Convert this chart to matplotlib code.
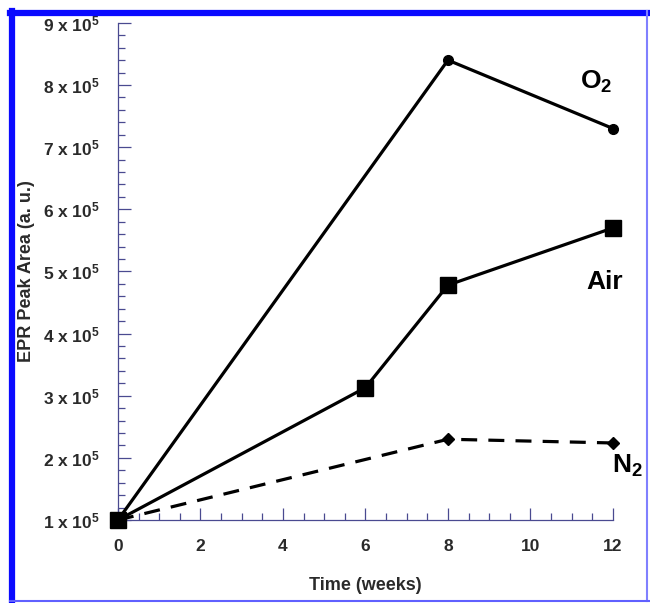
import matplotlib.pyplot as plt
from matplotlib import ticker
from matplotlib.lines import Line2D

plt.rcParams['font.family'] = ['Liberation Sans', 'DejaVu Sans']
plt.rcParams['mathtext.default'] = 'regular'

# EPR peak area vs storage time
o2_weeks = [0, 8, 12]
o2_area = [1.0e5, 8.4e5, 7.3e5]
air_weeks = [0, 6, 8, 12]
air_area = [1.0e5, 3.13e5, 4.78e5, 5.7e5]
n2_weeks = [0, 8, 12]
n2_area = [1.0e5, 2.3e5, 2.24e5]

y_ticks = [1e5, 2e5, 3e5, 4e5, 5e5, 6e5, 7e5, 8e5, 9e5]
x_ticks = [0, 2, 4, 6, 8, 10, 12]

axis_col = "#4a4a90"
label_col = "#2a2a2a"

fig = plt.figure(figsize=(6.5, 6.03), dpi=100)
ax = fig.add_axes([0.1815, 0.1376, 0.7615, 0.8245])

ax.plot(o2_weeks, o2_area, "-o", color="black", lw=2.3, markersize=7, clip_on=False, zorder=3)
ax.plot(air_weeks, air_area, "-s", color="black", lw=2.3, markersize=11, clip_on=False, zorder=3)
ax.plot(n2_weeks, n2_area, "--D", color="black", lw=2.3, markersize=6, dashes=(5, 3.5),
        clip_on=False, zorder=3)

ax.set_xlim(0, 12)
ax.set_ylim(1e5, 9e5)
ax.set_xticks(x_ticks)
ax.set_yticks(y_ticks)
ax.xaxis.set_minor_locator(ticker.MultipleLocator(0.5))
ax.yaxis.set_minor_locator(ticker.MultipleLocator(2e4))
ax.yaxis.set_major_formatter(ticker.FuncFormatter(
    lambda v, pos: "{} x 10$^5$".format(int(round(v / 1e5)))))

for side in ["top", "right"]:
    ax.spines[side].set_visible(False)
for side in ["left", "bottom"]:
    ax.spines[side].set_color(axis_col)
    ax.spines[side].set_linewidth(0.9)

ax.tick_params(which="both", direction="in", colors=axis_col, labelcolor=label_col,
               labelsize=12.5)
ax.tick_params(which="major", length=9, width=0.9)
ax.tick_params(axis="y", which="major", pad=13)
ax.tick_params(axis="x", which="major", pad=14)
ax.tick_params(which="minor", length=5, width=0.9)
for lab in ax.get_xticklabels() + ax.get_yticklabels():
    lab.set_fontweight("bold")

ax.set_xlabel("Time (weeks)", fontsize=13, fontweight="bold", color=label_col)
ax.xaxis.set_label_coords(0.5, -0.132)
ax.xaxis.label.set_va("center")
ax.set_ylabel("EPR Peak Area (a. u.)", fontsize=13, fontweight="bold", color=label_col)
ax.yaxis.set_label_coords(-0.184, 0.5)
ax.yaxis.label.set_va("center")

ax.text(11.6, 8.05e5, "O$_2$", fontsize=19, fontweight="bold", ha="center", va="center",
        clip_on=False)
ax.text(11.8, 4.83e5, "Air", fontsize=19, fontweight="bold", ha="center", va="center",
        clip_on=False)
ax.text(12.72, 1.87e5, "N$_2$", fontsize=19, fontweight="bold", ha="right", va="center",
        clip_on=False)

# blue frame around the figure
blue = "#0a0aff"
fig.add_artist(Line2D([0.0185, 0.0185], [0.004, 0.981], color=blue, lw=4.5, transform=fig.transFigure))
fig.add_artist(Line2D([0.015, 1.0], [0.979, 0.979], color=blue, lw=4.5, transform=fig.transFigure))
fig.add_artist(Line2D([0.996, 0.996], [0.004, 0.981], color="#8080ff", lw=1.5, transform=fig.transFigure))
fig.add_artist(Line2D([0.015, 1.0], [0.004, 0.004], color="#6060ff", lw=1.5, transform=fig.transFigure))

fig.savefig("out.png", dpi=100)
